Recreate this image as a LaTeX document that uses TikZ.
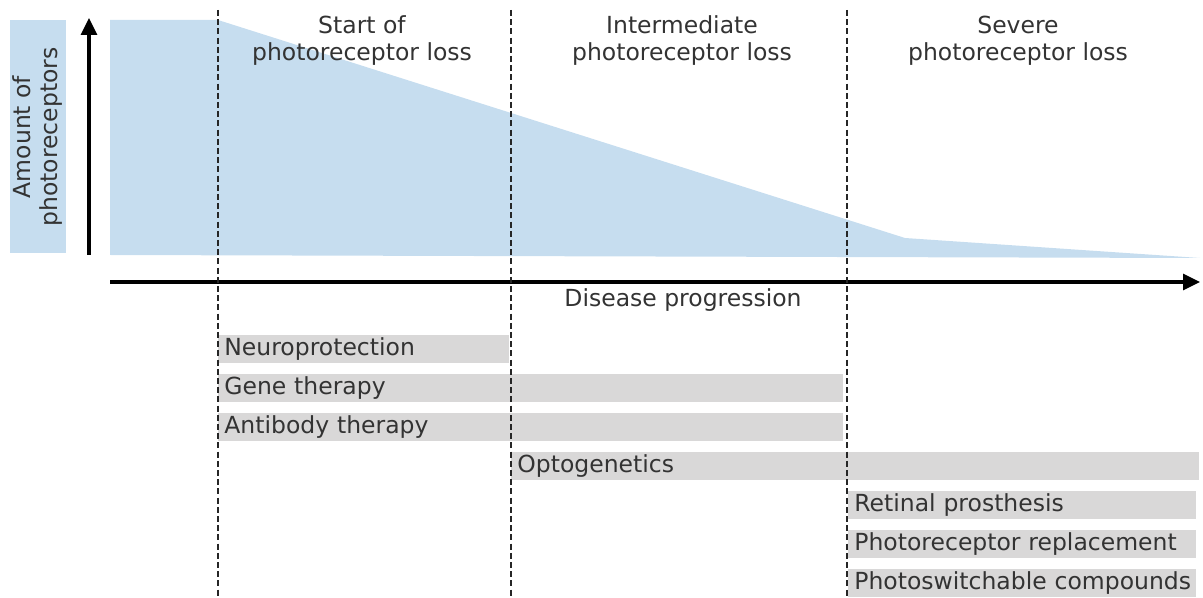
\documentclass[tikz,border=0pt]{standalone}
\usepackage{xcolor}
\usepackage{fontspec}
\setmainfont{DejaVu Sans}
\usepackage{tikz}
\usetikzlibrary{arrows.meta, positioning}

\definecolor{lossblue}{HTML}{C6DDEF}
\definecolor{bargray}{HTML}{D9D8D8}
\definecolor{txtgray}{HTML}{333333}

\begin{document}
\begin{tikzpicture}[x=0.5pt, y=-0.5pt, font=\fontsize{11.75}{13.5}\selectfont, text=txtgray]
\tikzstyle{phase} = [align=center, inner sep=0pt]
\tikzstyle{therapy} = [fill=bargray, anchor=north west, minimum height=14pt, inner xsep=3pt, inner ysep=0pt, align=left]
\tikzstyle{axis} = [line width=1.6pt, -{Triangle[length=8.5pt, width=8pt]}]
\tikzstyle{border} = [line width=0.9pt, dash pattern=on 3pt off 1.6pt, draw=black!85]

\useasboundingbox (0,0) rectangle (1203,598);

% amount of photoreceptors
\fill[lossblue] (110,20) -- (218,20) -- (905,238) -- (1200,258) -- (110,255) -- cycle;
\node (ylabel) [fill=lossblue, minimum width=233*0.5pt, minimum height=56*0.5pt, rotate=90, align=center, inner sep=0pt] at (38,137) {Amount of\\photoreceptors};

% axes
\coordinate (yorig) at (89,255);
\coordinate (ytip) at (89,18);
\coordinate (xorig) at (110,282);
\coordinate (xtip) at (1200,282);
\draw[axis] (yorig) -- (ytip);
\draw[axis] (xorig) -- (xtip);
\node (xlabel) [inner sep=0pt] at (683,300) {Disease progression};

\node (p1) [phase] at (362,41) {Start of\\photoreceptor loss};
\node (p2) [phase] at (682,41) {Intermediate\\photoreceptor loss};
\node (p3) [phase] at (1018,41) {Severe\\photoreceptor loss};

% therapies
\node (t1) [therapy, text width=139.5pt] at (218,335) {Neuroprotection};
\node (t2) [therapy, text width=306.5pt] at (218,374) {Gene therapy};
\node (t3) [therapy, text width=306.5pt] at (218,413) {Antibody therapy};
\node (t4) [therapy, text width=338pt] at (511,452) {Optogenetics};
\node (t5) [therapy, text width=168pt] at (848,491) {Retinal prosthesis};
\node (t6) [therapy, text width=168pt] at (848,530) {Photoreceptor replacement};
\node (t7) [therapy, text width=168pt] at (848,569) {\mbox{Photoswitchable compounds}};

% phase borders
\foreach \name/\x in {b1/218, b2/511, b3/847} {
  \coordinate (\name top) at (\x,10);
  \coordinate (\name bot) at (\x,598);
  \draw[border] (\name top) -- (\name bot);
}

\end{tikzpicture}
\end{document}
